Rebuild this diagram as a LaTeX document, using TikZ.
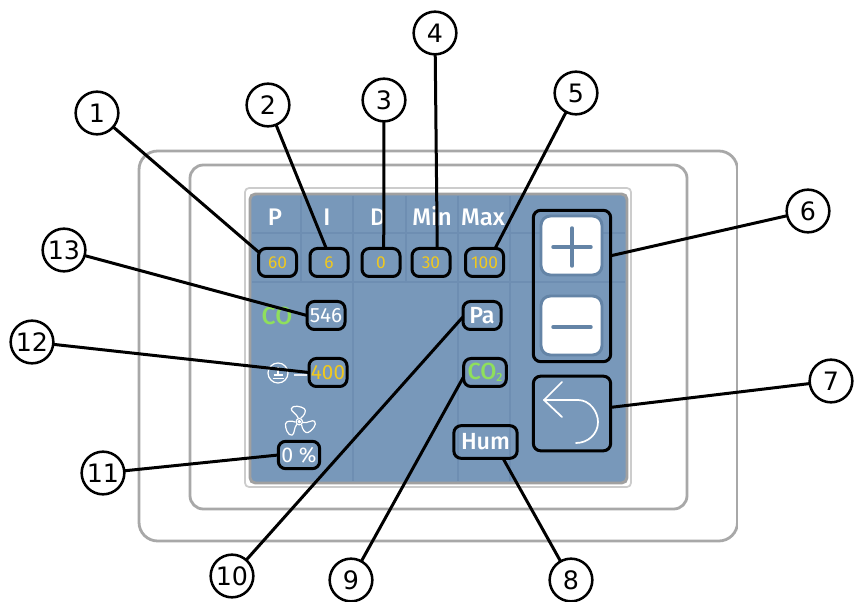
\documentclass[tikz,border=0pt]{standalone}
\usepackage{fontspec}
\setmainfont{Fira Sans}
\newfontfamily\medfont{Fira Sans Medium}
\newfontfamily\numfont{DejaVu Sans}
\definecolor{panelblue}{HTML}{7898BA}
\definecolor{gridblue}{HTML}{6E8EB2}
\definecolor{haloblue}{HTML}{6484A6}
\definecolor{casegrey}{HTML}{A8A8A8}
\definecolor{framegrey}{HTML}{CCCCCC}
\definecolor{bordergrey}{HTML}{A0A0A0}
\definecolor{valyellow}{HTML}{F0C81E}
\definecolor{valgreen}{HTML}{8FDF5C}
\tikzset{
  x=0.75pt,y=-0.75pt,
  casebox/.style={draw=casegrey,line width=2.1pt,rounded corners=14pt},
  gridline/.style={draw=gridblue,line width=0.8pt},
  vbox/.style={draw=black,line width=2.25pt,rounded corners=5.5pt,inner sep=0pt,outer sep=0pt,align=center},
  callout/.style={circle,draw=black,fill=white,line width=1.9pt,minimum size=32pt,inner sep=0pt,outer sep=0pt,font=\numfont\fontsize{19}{19}\selectfont},
  link/.style={draw=black,line width=2.25pt},
  head/.style={text=white,inner sep=0pt,anchor=base,font=\medfont\fontsize{18}{18}\selectfont},
  yval/.style={text=valyellow,font=\fontsize{13}{13}\selectfont},
  wval/.style={text=white,font=\fontsize{15.5}{16}\selectfont},
  bval/.style={text=white,font=\medfont\fontsize{17.5}{18}\selectfont},
  keyface/.style={fill=white,draw=haloblue,line width=2.2pt,rounded corners=7pt},
  keysign/.style={draw=haloblue,line width=2.6pt,line cap=round},
  thinwhite/.style={draw=white,line width=0.9pt,line join=round}
}
\begin{document}
\begin{tikzpicture}
\useasboundingbox (0,0) rectangle (854,602);
\fill[white] (0,0) rectangle (854,602);
% case
\draw[casebox] (139,151) rectangle (737.5,541);
\fill[white] (738,140) rectangle (760,550);
\draw[casebox,rounded corners=10pt] (190,165) rectangle (687,509);
% screen
\draw[framegrey,line width=1.3pt,rounded corners=3pt] (245,188) rectangle (631,487);
\draw[bordergrey,fill=panelblue,line width=2.2pt,rounded corners=4pt] (250,194) rectangle (627,483);
% grid
\draw[gridline] (252,233) -- (625,233);
\draw[gridline] (252,282) -- (625,282);
\draw[gridline] (301,196) -- (301,282);
\draw[gridline] (406,196) -- (406,282);
\draw[gridline] (353,196) -- (353,481);
\draw[gridline] (458,196) -- (458,481);
\draw[gridline] (510,196) -- (510,481);
% headings
\node[head] (hp) at (275,226) {P};
\node[head] (hi) at (327,226) {I};
\node[head] (hd) at (378,226) {D};
\node[head] (hmin) at (432,226) {Min};
\node[head] (hmax) at (483,226) {Max};
% green label
\node[text=valgreen,inner sep=0pt,font=\medfont\fontsize{18.5}{18}\selectfont] (co) at (277,316) {CO};
% earth icon
\draw[thinwhite] (278,373) circle (10);
\draw[thinwhite] (278,367) -- (278,375);
\draw[thinwhite] (273.5,375) -- (282.5,375);
\draw[thinwhite] (272.5,378.5) -- (283.5,378.5);
\draw[white!85!panelblue,line width=1.5pt] (294,375) -- (307,375);
% fan icon
\draw[thinwhite] (299.3,421.7) circle (3.2);
\draw[thinwhite] (299.3,421.7) circle (1.2);
\foreach \r in {0,120,240}{
  \begin{scope}[shift={(299.3,421.7)},rotate=\r]
    \draw[thinwhite] (1.5,-3.5) .. controls (5,-6) and (7.5,-11) .. (5,-13)
      .. controls (2,-15.5) and (-7,-17) .. (-8,-13)
      .. controls (-8.5,-10) and (-2.5,-8) .. (-1,-3.5);
  \end{scope}
}
% keys
\draw[keyface] (541,216) rectangle (602,275);
\draw[keysign] (553,247) -- (591,247);
\draw[keysign] (572,228) -- (572,266);
\draw[keyface] (541,296) rectangle (602,355);
\draw[keysign] (553,327) -- (591,327);
% back arrow
\draw[draw=white,line width=1.3pt,line join=round,line cap=round]
  (562,382) -- (544,400) -- (562,417);
\draw[draw=white,line width=1.3pt,line cap=round]
  (544,400) -- (578,400) .. controls (590,400) and (598,412) .. (598,422)
  .. controls (598,434) and (588,443) .. (576,443);
% value boxes
\node[vbox,minimum width=28.5pt,minimum height=21pt,yval] (b60) at (277.5,262.5) {60};
\node[vbox,minimum width=28.5pt,minimum height=21pt,yval] (b6) at (329,262.5) {6};
\node[vbox,minimum width=28.5pt,minimum height=21pt,yval] (b0) at (381,262.5) {0};
\node[vbox,minimum width=28.5pt,minimum height=21pt,yval] (b30) at (431,262.5) {30};
\node[vbox,minimum width=28.5pt,minimum height=21pt,yval] (b100) at (484.5,262.5) {100};
\node[vbox,minimum width=28.5pt,minimum height=21pt,wval] (b546) at (326,315.5) {546};
\node[vbox,minimum width=28.5pt,minimum height=21pt,bval] (bpa) at (482,315.5) {Pa};
\node[vbox,minimum width=28.5pt,minimum height=21pt,text=valyellow,font=\fontsize{15.5}{16}\selectfont] (b400) at (328,372.5) {400};
\node[vbox,minimum width=32pt,minimum height=21pt,text=valgreen,font=\medfont\fontsize{17.5}{16}\selectfont] (bco) at (485,372.5) {CO\raisebox{-0.08em}{\fontsize{9}{9}\selectfont 2}};
\node[vbox,minimum width=47.5pt,minimum height=24.5pt,bval] (bhum) at (485.5,442) {Hum};
\node[vbox,minimum width=31pt,minimum height=20.5pt,wval,font=\fontsize{16}{16}\selectfont] (bfan) at (299,455) {0 \%};
\node[vbox,minimum width=58pt,minimum height=113.5pt] (gplus) at (572,286) {};
\node[vbox,minimum width=58pt,minimum height=56pt] (gback) at (572,413.5) {};
% callouts
\node[callout] (c1) at (97,113) {1};
\node[callout] (c2) at (268,105) {2};
\node[callout] (c3) at (384,100) {3};
\node[callout] (c4) at (435,33) {4};
\node[callout] (c5) at (576,93) {5};
\node[callout] (c6) at (808,211) {6};
\node[callout] (c7) at (831,381) {7};
\node[callout] (c8) at (571,580) {8};
\node[callout] (c9) at (351,580) {9};
\node[callout] (c10) at (232,576) {10};
\node[callout] (c11) at (103,473) {11};
\node[callout] (c12) at (32,342) {12};
\node[callout] (c13) at (64,250) {13};
% connectors
\draw[link] (c1) -- (b60.151);
\draw[link] (c2) -- (b6.101);
\draw[link] (c3) -- (b0.79);
\draw[link] (c4) -- (b30.66);
\draw[link] (c5) -- (b100.53);
\draw[link] (c6) -- (gplus.38.7);
\draw[link] (c7) -- (gback.9);
\draw[link] (c8) -- (bhum.-43);
\draw[link] (c9) -- (bco.191);
\draw[link] (c10) -- (bpa.184);
\draw[link] (c11) -- (bfan.180);
\draw[link] (c12) -- (b400.180);
\draw[link] (c13) -- (b546.180);
\end{tikzpicture}
\end{document}
